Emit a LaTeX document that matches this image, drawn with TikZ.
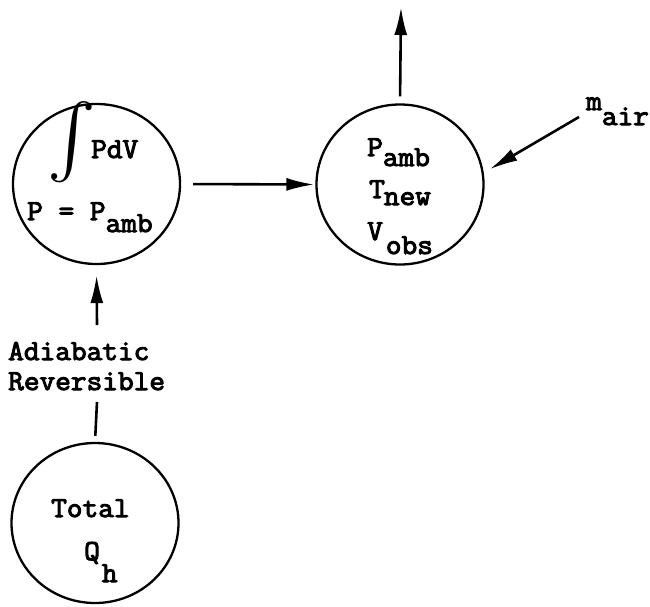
\documentclass[tikz,border=0pt]{standalone}
\usepackage{fontspec}
\usepackage{graphicx}
\newfontfamily\tmono[FakeStretch=1.05,FakeBold=3.5]{Latin Modern Mono}
\usetikzlibrary{shapes.geometric,arrows.meta}
\begin{document}
\begin{tikzpicture}[x=1pt,y=-1pt,
  every node/.style={inner sep=0pt},
  ring/.style={draw, ellipse, line width=2.3pt, minimum width=167pt, minimum height=160pt},
  lbl/.style={font={\tmono\fontsize{29}{32}\selectfont}, anchor=base west, inner sep=0pt},
  arr/.style={line width=2.6pt, -{Latex[length=28pt,width=13pt]}},
  plain/.style={line width=2.6pt}]
\useasboundingbox (0,0) rectangle (650,606);

% the three states
\node[ring] (c1) at (96.5,184) {};
\node[ring] (c2) at (400,184.5) {};
\node[ring] (c3) at (95,523) {};

% expansion state
\node (intg) at (72,142) {\resizebox{!}{59pt}{$\int$}};
\node[lbl] (pdv) at (91,158) {PdV};
\node[lbl] (peq) at (27,220) {P = P\raisebox{-12pt}{amb}};

% final state
\node[lbl] (pamb) at (367,156) {P\raisebox{-10pt}{amb}};
\node[lbl] (tnew) at (369,198) {T\hspace{-1pt}\raisebox{-7pt}{new}};
\node[lbl] (vobs) at (367,240) {V\hspace{3pt}\raisebox{-14pt}{obs}};
\node[lbl] (mair) at (586,110) {m\raisebox{-15pt}{air}};

% heat input
\node[lbl] (total) at (51,517) {Total};
\node[lbl] (qh) at (84,560) {Q\hspace{2pt}\raisebox{-22pt}{h}};

% process label
\node[lbl] (adia) at (8,360) {Adiabatic};
\node[lbl] (rev) at (8,390) {Reversible};

% connectors
\coordinate (upend) at (401,7);
\coordinate (mstart) at (579,117);
\coordinate (adtop) at (97,325);
\coordinate (adbot) at (97,402);

\draw[arr, shorten <=7pt] (c2.north) -- (upend);
\draw[arr, shorten <=12pt, shorten >=1pt] (c1.east) -- (c2.west);
\draw[arr, shorten >=7pt] (mstart) -- (c2.8);
\draw[arr, shorten >=10pt] (adtop) -- (c1.south);
\draw[plain, shorten <=6pt] (c3.north) -- (adbot);
\end{tikzpicture}
\end{document}
